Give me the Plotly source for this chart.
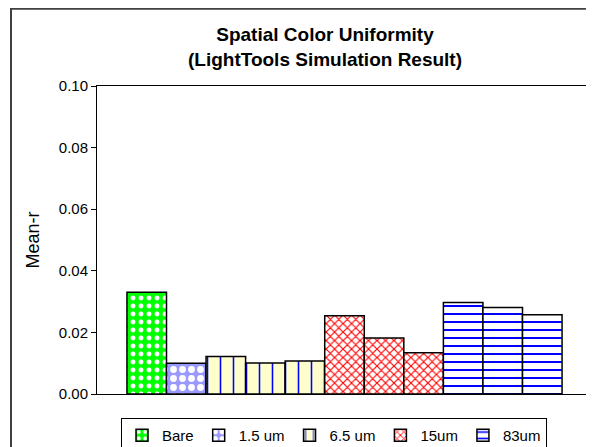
import plotly.graph_objects as go

# ---- data ----
groups = ["Bare", "1.5 um", "6.5 um", "15um", "83um"]
bare = [0.0330]
um1_5 = [0.0100]
um6_5 = [0.0122, 0.0101, 0.0107]
um15 = [0.0254, 0.0182, 0.0134]
um83 = [0.0297, 0.0281, 0.0257]
y_ticks = [0.00, 0.02, 0.04, 0.06, 0.08, 0.10]
y_tick_labels = ["0.00", "0.02", "0.04", "0.06", "0.08", "0.10"]

series = [bare, um1_5, um6_5, um15, um83]
styles = [
    dict(color="#00FF00", pattern=dict(shape=".", fgcolor="#FFFFFF", bgcolor="#00FF00", size=8, solidity=0.3, fgopacity=1)),
    dict(color="#9999FF", pattern=dict(shape=".", fgcolor="#FFFFFF", bgcolor="#9999FF", size=9, solidity=0.45, fgopacity=1)),
    dict(color="#FFFFCC", pattern=dict(shape="|", fgcolor="#0000FF", bgcolor="#FFFFCC", size=13, solidity=0.12, fgopacity=1)),
    dict(color="#FFFFFF", pattern=dict(shape="x", fgcolor="#FF0000", bgcolor="#FFFFFF", size=6, solidity=0.35, fgopacity=1)),
    dict(color="#FFFFFF", pattern=dict(shape="-", fgcolor="#0000FF", bgcolor="#FFFFFF", size=8, solidity=0.25, fgopacity=1)),
]

# page body adds an 8px offset; layout numbers below compensate for it
OFF = 8
PL, PR, PT, PB = 97 - OFF, 592 - OFF, 86 - OFF, 394 - OFF
W, H = 594, 447
PW, PH = PR - PL, PB - PT

fig = go.Figure()
for name, vals, st in zip(groups, series, styles):
    for i, v in enumerate(vals):
        fig.add_trace(go.Bar(
            x=["Mean-r"], y=[v], name=name, legendgroup=name,
            showlegend=(i == 0),
            marker=dict(color=st["color"], pattern=st["pattern"],
                        line=dict(color="#000000", width=1.5)),
        ))

fig.update_layout(
    width=W, height=H,
    barmode="group", bargap=0.121, bargroupgap=0,
    paper_bgcolor="white", plot_bgcolor="white",
    margin=dict(l=PL, r=W - PR, t=PT, b=H - PB, autoexpand=False),
    font=dict(family="Liberation Sans, Arial, sans-serif", color="#000000"),
    title=dict(
        text="<b>Spatial Color Uniformity<br>(LightTools Simulation Result)</b>",
        x=(325 - OFF) / W, xref="container", xanchor="center",
        y=1 - 33 / H, yref="container", yanchor="top",
        font=dict(size=19, color="#000000"),
    ),
    showlegend=True,
    legend=dict(
        orientation="h", x=(121 - OFF - PL) / PW, xanchor="left",
        y=(PB - (418 - OFF)) / PH, yanchor="top",
        bordercolor="#000000", borderwidth=1, bgcolor="white",
        font=dict(size=15), itemwidth=30, traceorder="normal",
        tracegroupgap=0,
    ),
    xaxis=dict(showticklabels=False, ticks="", showline=True, linecolor="#000000",
               linewidth=1, mirror=True, showgrid=False, zeroline=False),
    yaxis=dict(range=[0, 0.10], tickvals=y_ticks, ticktext=y_tick_labels,
               ticks="outside", ticklen=5, tickcolor="#000000",
               showline=True, linecolor="#000000", linewidth=1, mirror=True,
               showgrid=False, zeroline=False, tickfont=dict(size=15),
               automargin=False,
               title=dict(text="Mean-r", font=dict(size=18), standoff=14)),
    shapes=[dict(type="rect", xref="paper", yref="paper",
                 x0=(11 - OFF - PL) / PW, x1=1.1, y0=-0.3, y1=(PB - 0.8) / PH,
                 line=dict(color="#404040", width=2), fillcolor="rgba(0,0,0,0)",
                 layer="below")],
)

fig.write_html("out.html")
